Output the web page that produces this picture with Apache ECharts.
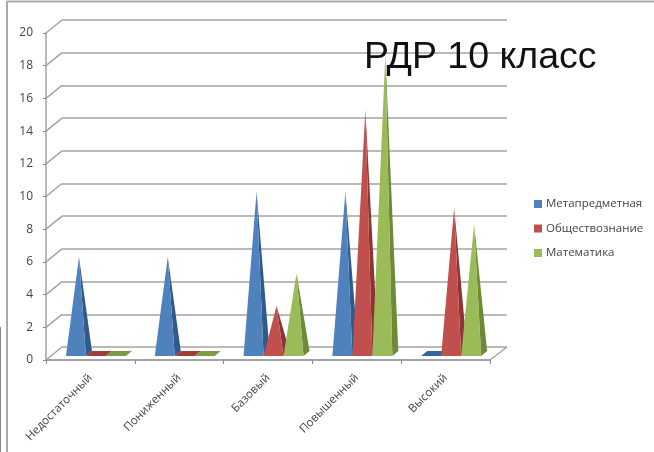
<!DOCTYPE html>
<html>
<head>
<meta charset="utf-8">
<style>
html,body{margin:0;padding:0;background:#fff}
#c{width:654px;height:452px;filter:blur(0.55px)}
</style>
<script src="https://cdn.jsdelivr.net/npm/echarts@6/dist/echarts.min.js"></script>
</head>
<body>
<div id="c"></div>
<script>
const categories = ['Недостаточный','Пониженный','Базовый','Повышенный','Высокий'];
const meta = [6, 6, 10, 10, 0];
const social = [0, 0, 3, 15, 9];
const maths = [0, 0, 5, 18.4, 8];
const yTicks = [0,2,4,6,8,10,12,14,16,18,20];
const seriesNames = ['Метапредметная','Обществознание','Математика'];
const fronts = ['#4f81bd','#c0504d','#9bbb59'];
const sides = ['#2f5b8c','#8e3533','#6c8a37'];
const flats = ['#34659c','#a03c3a','#7d9a44'];
const gray = '#a3a3a3';

function pyramid(idx){
  return function(params, api){
    const cat = api.value(0), v = api.value(1);
    const band = api.size([1,0])[0];
    const w = band*0.225, cx = api.coord([cat,0])[0];
    const y0 = api.coord([cat,0])[1];
    const x0 = cx - band*0.275 + idx*w, x1 = x0+w, yb = y0-4;
    const dx = 6, dy = 5;
    const top = api.coord([cat,v])[1]-5;
    if(v===0){
      return {type:'polygon',shape:{points:[[x0,yb],[x1,yb],[x1+dx,yb-dy],[x0+dx,yb-dy]]},style:{fill:flats[idx]}};
    }
    const ax = (x0+x1+dx)/2;
    return {type:'group',children:[
      {type:'polygon',shape:{points:[[x1,yb],[x1+dx,yb-dy],[ax,top]]},style:{fill:sides[idx]}},
      {type:'polygon',shape:{points:[[x0,yb],[x1,yb],[ax,top]]},style:{fill:fronts[idx]}}
    ]};
  };
}
function barSeries(idx, values){
  return {
    name:seriesNames[idx], type:'custom', xAxisIndex:0, yAxisIndex:0, clip:false, z:5+idx,
    itemStyle:{color:fronts[idx]},
    renderItem:pyramid(idx),
    encode:{x:0,y:1},
    data:values.map((v,i)=>[i,v])
  };
}
const connectors = {
  type:'custom', xAxisIndex:0, yAxisIndex:0, clip:false, z:2, silent:true,
  renderItem:function(params, api){
    const v = api.value(1), y = api.coord([0,v])[1], cs = params.coordSys;
    const kids = [{type:'line',shape:{x1:cs.x,y1:y,x2:cs.x+16,y2:y-13},style:{stroke:gray,lineWidth:1.5}}];
    if(v===0) kids.push({type:'line',shape:{x1:cs.x+cs.width,y1:y,x2:cs.x+cs.width+17,y2:y-13},style:{stroke:gray,lineWidth:1.5}});
    return {type:'group',children:kids};
  },
  encode:{x:0,y:1},
  data:yTicks.map(v=>[0,v])
};
const chart = echarts.init(document.getElementById('c'),null,{renderer:'canvas'});
chart.setOption({
  animation:false,
  backgroundColor:'#fff',
  title:{text:'РДР 10 класс',left:359,top:34,z:20,textStyle:{fontFamily:'Liberation Sans',fontSize:37.5,fontWeight:'normal',color:'#111'}},
  legend:{data:seriesNames,orient:'vertical',left:529,top:193,icon:'rect',itemWidth:8,itemHeight:8,itemGap:12.5,
    textStyle:{fontFamily:'Open Sans',fontSize:11.5,color:'#444',padding:[0,0,0,-1]}},
  grid:[
    {left:46,top:33,width:444,height:327},
    {left:62,top:20,width:445,height:327}
  ],
  xAxis:[
    {type:'category',gridIndex:0,data:categories,
     axisLine:{lineStyle:{color:gray,width:2}},
     axisTick:{show:true,length:4,lineStyle:{color:'#888',width:1}},
     axisLabel:{rotate:45,interval:0,margin:16,fontFamily:'Open Sans',fontSize:11.5,color:'#444'}},
    {type:'category',gridIndex:1,data:categories,show:false}
  ],
  yAxis:[
    {type:'value',gridIndex:0,min:0,max:20,interval:2,
     axisLine:{show:true,lineStyle:{color:gray,width:1.5}},
     axisTick:{show:true,length:3,lineStyle:{color:'#888'}},
     splitLine:{show:false},
     axisLabel:{margin:13,padding:[4,0,0,0],fontFamily:'Open Sans',fontSize:12,color:'#444'}},
    {type:'value',gridIndex:1,min:0,max:20,interval:2,
     axisLine:{show:false},axisTick:{show:false},axisLabel:{show:false},
     splitLine:{show:true,lineStyle:{color:gray,width:1.5}}}
  ],
  graphic:[
    {type:'line',shape:{x1:7,y1:1.5,x2:654,y2:1.5},style:{stroke:'#aaa',lineWidth:2}},
    {type:'line',shape:{x1:7,y1:1,x2:7,y2:452},style:{stroke:'#aaa',lineWidth:2}},
    {type:'line',shape:{x1:0.5,y1:327,x2:0.5,y2:452},style:{stroke:'#888',lineWidth:1}}
  ],
  series:[connectors, barSeries(0,meta), barSeries(1,social), barSeries(2,maths)]
});
</script>
</body>
</html>
